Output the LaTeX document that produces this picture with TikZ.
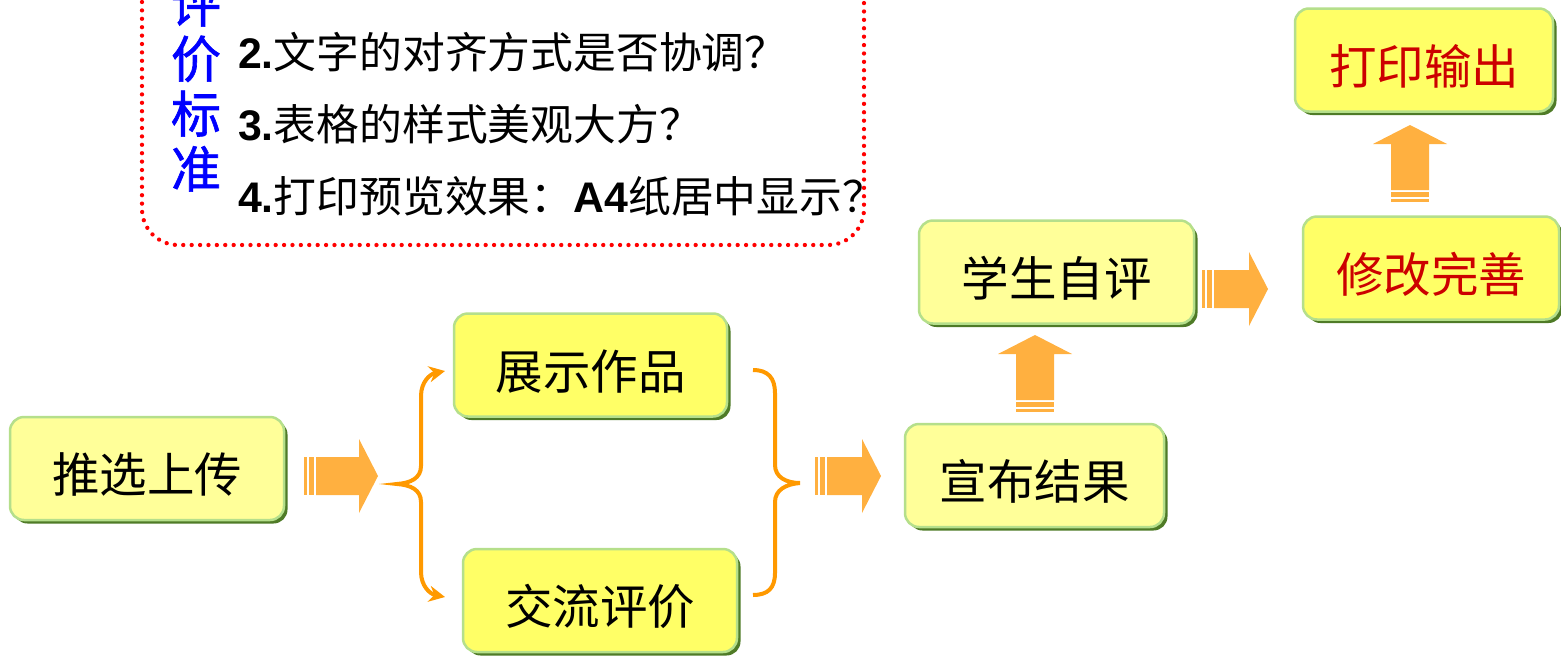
\documentclass[tikz,border=0pt]{standalone}
\usepackage{fontspec}
\setmainfont{Liberation Sans}
\newfontfamily\cjk{Noto Sans CJK SC}
\newfontfamily\cjkmed[FakeBold=1.2]{Noto Sans CJK SC}
\usetikzlibrary{arrows.meta,shadows,calc}
\definecolor{paleyellow}{HTML}{FFFF99}
\definecolor{brightyellow}{HTML}{FFFF66}
\definecolor{bordergreen}{HTML}{B5DF8B}
\definecolor{shadowgreen}{HTML}{4F7B27}
\definecolor{arroworange}{HTML}{FFB040}
\definecolor{braceorange}{HTML}{FF9900}
\definecolor{redtext}{HTML}{CC0000}
\definecolor{dotred}{HTML}{FF0000}
\tikzset{
  box/.style={rounded corners=14pt, draw=bordergreen, line width=2.5pt, inner sep=0pt,
    minimum height=103pt, text height=50pt, text depth=2pt,
    drop shadow={shadow xshift=3.5pt, shadow yshift=-3.5pt, fill=shadowgreen, opacity=1},
    font=\cjk\fontsize{47.5}{50}\selectfont, text=black},
  palebox/.style={box, fill=paleyellow},
  brightbox/.style={box, fill=brightyellow},
  bracepath/.style={draw=braceorange, line width=4pt},
  listline/.style={anchor=west, inner sep=0pt, font=\fontsize{42.8}{45}\selectfont},
  pics/blockarr/.style={code={
    \fill[arroworange] (0,-19) rectangle (3,19);
    \fill[arroworange] (5,-19) rectangle (10,19);
    \fill[arroworange] (12,-19) -- (#1-19,-19) -- (#1-19,-37) -- (#1,0) -- (#1-19,37) -- (#1-19,19) -- (12,19) -- cycle;
  }}
}
\begin{document}
\begin{tikzpicture}[x=1pt,y=-1pt]
\useasboundingbox (0,0) rectangle (1561,656);

% evaluation criteria box
\draw[dotred, line width=4.3pt, dash pattern=on 0pt off 8.4pt, line cap=round, rounded corners=36pt]
  (142,-40) -- (142,245) -- (864,245) -- (864,-40);
\node[font=\cjkmed\fontsize{50}{55}\selectfont, text=blue, align=center, inner sep=0pt] (pingjia) at (196,87) {评\\价\\标\\准};
\node[listline] (c2) at (238,52) {\textbf{2.}\cjk 文字的对齐方式是否协调？};
\node[listline] (c3) at (238,124) {\textbf{3.}\cjk 表格的样式美观大方？};
\node[listline] (c4) at (238,196) {\textbf{4.}{\cjk 打印预览效果：}\textbf{A4}\cjk 纸居中显示？};

% boxes
\node[palebox, minimum width=274pt] (tuixuan) at (147,468.5) {推选上传};
\node[brightbox, minimum width=273pt] (zhanshi) at (590.5,365) {展示作品};
\node[brightbox, minimum width=274pt] (jiaoliu) at (600,600.5) {交流评价};
\node[palebox, minimum width=259pt] (xuanbu) at (1034.5,475.5) {宣布结果};
\node[palebox, minimum width=275pt] (ziping) at (1056.5,272) {学生自评};
\node[brightbox, minimum width=256pt, text=redtext] (xiugai) at (1431,268) {修改完善};
\node[brightbox, minimum width=258pt, text=redtext] (dayin) at (1424,60) {打印输出};

% block arrows
\pic at (304,476) {blockarr=74};
\pic at (815,476) {blockarr=66};
\pic[rotate=90] at (1035,412) {blockarr=77};
\pic at (1202,289) {blockarr=66};
\pic[rotate=90] at (1410,202) {blockarr=77};

% braces
\coordinate (lbtop) at (445,371);
\coordinate (lbbot) at (445,597);
\coordinate (rbtop) at (753,370);
\coordinate (rbbot) at (753,595);
\draw[bracepath, {Stealth[length=16pt,width=16pt]}-{Stealth[length=16pt,width=16pt]}]
  (lbtop) .. controls (430,374) and (421,382) .. (421,396) -- (421,466)
  .. controls (421,478) and (411,483) .. (397,484)
  .. controls (411,485) and (421,490) .. (421,502) -- (421,572)
  .. controls (421,586) and (430,594) .. (lbbot);
\draw[bracepath]
  (rbtop) .. controls (768,370) and (775,378) .. (775,393) -- (775,465)
  .. controls (775,477) and (786,483) .. (800,483)
  .. controls (786,484) and (775,490) .. (775,502) -- (775,573)
  .. controls (775,588) and (768,595) .. (rbbot);
\end{tikzpicture}
\end{document}
